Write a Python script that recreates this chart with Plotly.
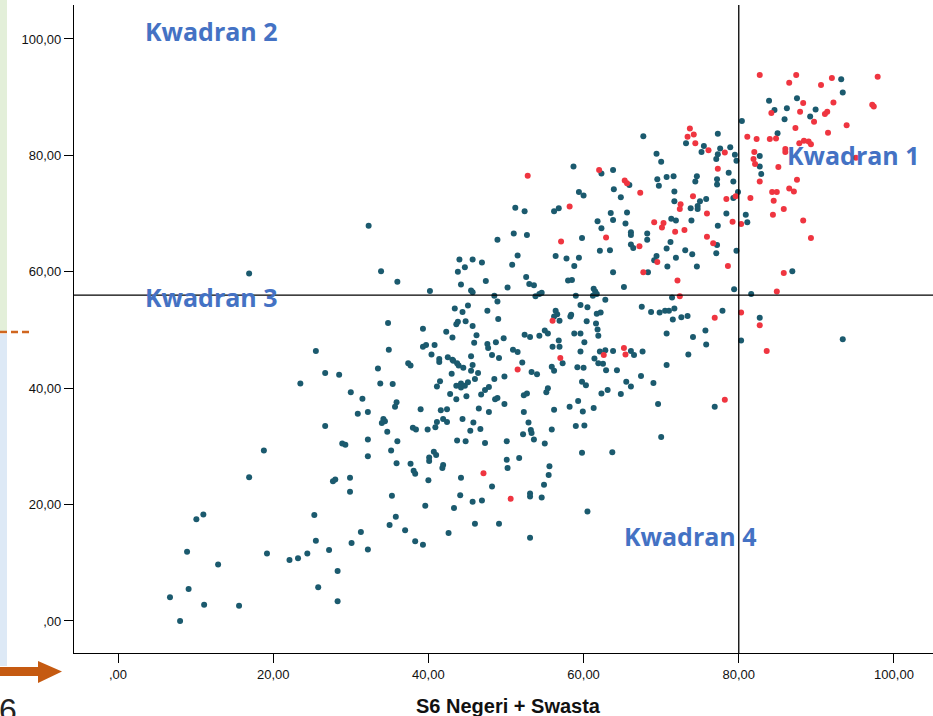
import plotly.graph_objects as go

# ---------------- data (x = S6 Negeri + Swasta, y = score) ----------------
teal_points = [
    (18.8, 29.3), (16.9, 24.7), (27.7, 24.0), (28.0, 24.3), (10.1, 17.5), (11.0, 18.3), (25.3, 18.2),
    (25.5, 13.8), (27.2, 12.2), (24.4, 11.6), (23.2, 10.8), (22.1, 10.5), (19.2, 11.6), (8.9, 11.9),
    (12.9, 9.7), (28.3, 8.6), (9.1, 5.5), (6.7, 4.1), (11.1, 2.8), (15.6, 2.6), (25.8, 5.8), (28.3, 3.4),
    (8.0, 0.0), (16.9, 59.7), (25.5, 46.4), (26.7, 42.6), (28.5, 42.3), (23.5, 40.8), (26.7, 33.5),
    (32.3, 67.9), (48.9, 65.5), (33.9, 60.1), (36.0, 58.3), (44.0, 62.1), (45.7, 62.1), (46.9, 61.6),
    (44.7, 60.8), (43.8, 60.0), (47.4, 58.4), (44.2, 57.8), (40.2, 56.7), (45.5, 56.8), (45.7, 56.5),
    (48.5, 55.9), (48.9, 54.9), (43.4, 53.7), (44.4, 53.1), (45.1, 54.2), (47.6, 53.3), (49.0, 51.9),
    (34.8, 51.2), (39.3, 50.2), (43.6, 51.0), (43.8, 51.4), (44.8, 51.5), (45.7, 50.7), (42.3, 49.7),
    (43.1, 48.7), (46.2, 49.1), (45.9, 47.8), (47.6, 47.6), (47.7, 46.9), (48.7, 47.9), (39.3, 47.1),
    (39.7, 47.4), (40.8, 47.4), (34.9, 46.6), (40.4, 45.8), (48.2, 45.7), (45.5, 45.5), (42.5, 45.3),
    (41.4, 45.0), (43.1, 44.9), (49.1, 45.2), (37.4, 44.3), (37.7, 43.9), (41.4, 44.5), (43.2, 44.7),
    (43.7, 44.3), (43.9, 43.9), (44.5, 43.5), (45.7, 44.0), (33.5, 43.4), (43.0, 42.5), (45.5, 43.0),
    (46.4, 42.6), (48.5, 41.6), (46.0, 41.6), (41.5, 41.2), (41.1, 40.3), (43.6, 40.4), (44.2, 40.8),
    (44.2, 40.1), (44.7, 40.4), (45.1, 41.0), (33.8, 40.8), (35.4, 40.7), (47.3, 39.7), (47.8, 40.2),
    (46.8, 38.9), (30.0, 39.3), (42.8, 39.0), (44.9, 38.6), (43.6, 38.1), (48.6, 38.1), (48.9, 38.3),
    (31.5, 38.2), (35.9, 37.6), (35.7, 36.8), (39.0, 36.4), (41.6, 36.2), (42.4, 36.4), (46.5, 36.5),
    (47.8, 35.9), (30.9, 35.6), (32.2, 35.9), (44.4, 34.7), (45.8, 34.1), (34.2, 34.7), (34.4, 34.3),
    (34.0, 34.0), (41.1, 34.2), (41.9, 34.7), (42.4, 34.2), (40.9, 33.3), (38.0, 33.2), (38.4, 32.9),
    (39.9, 32.9), (45.4, 32.7), (46.7, 33.0), (34.7, 32.5), (32.2, 31.2), (36.0, 30.9), (28.9, 30.5),
    (29.3, 30.3), (43.7, 31.0), (44.8, 30.9), (47.3, 30.6), (35.2, 29.3), (40.7, 29.1), (41.0, 28.5),
    (40.1, 28.1), (40.1, 27.5), (32.2, 28.3), (35.9, 27.1), (37.7, 27.0), (41.9, 26.8), (41.8, 26.3),
    (38.1, 25.8), (38.3, 25.3), (29.9, 24.6), (40.0, 24.2), (44.2, 24.6), (48.2, 23.1), (29.9, 22.2),
    (35.3, 21.5), (44.1, 21.6), (39.6, 19.8), (43.3, 19.4), (45.7, 20.5), (46.9, 20.7), (35.8, 17.9),
    (35.0, 16.5), (37.0, 15.6), (31.3, 15.3), (46.0, 16.7), (49.1, 16.7), (42.6, 15.1), (30.1, 13.4),
    (38.3, 13.7), (39.3, 13.1), (32.2, 12.3), (58.7, 78.1), (62.3, 76.9), (63.8, 77.5), (65.9, 74.9),
    (63.9, 74.2), (59.4, 73.7), (60.0, 73.1), (64.8, 72.8), (51.2, 71.0), (52.4, 70.4), (56.2, 70.4),
    (56.8, 70.9), (63.5, 70.1), (65.6, 70.2), (61.8, 68.7), (63.8, 68.9), (65.4, 68.3), (62.3, 67.5),
    (66.1, 66.8), (66.1, 66.3), (51.0, 66.6), (52.7, 66.3), (59.8, 65.8), (66.1, 64.7), (66.4, 64.1),
    (62.1, 63.6), (63.4, 63.7), (51.5, 62.8), (50.8, 61.2), (56.4, 62.7), (57.8, 62.3), (59.4, 62.4),
    (58.8, 61.0), (63.8, 59.9), (52.6, 59.1), (53.0, 57.9), (53.6, 57.7), (50.2, 57.3), (58.0, 58.5),
    (58.5, 58.6), (65.2, 57.4), (53.8, 55.8), (54.3, 56.2), (54.6, 56.4), (59.0, 55.9), (61.3, 57.1),
    (61.5, 56.6), (61.7, 56.2), (61.2, 55.9), (62.8, 55.2), (59.6, 54.3), (60.5, 53.9), (56.4, 53.3),
    (56.6, 52.7), (56.2, 52.3), (56.9, 51.6), (58.4, 52.6), (58.3, 52.3), (61.7, 52.8), (62.2, 53.0),
    (60.4, 51.5), (61.6, 51.1), (61.8, 50.1), (61.9, 49.0), (55.0, 49.9), (55.4, 49.4), (52.4, 49.2),
    (53.1, 48.8), (54.3, 49.0), (58.8, 49.4), (59.6, 49.4), (49.7, 48.6), (56.8, 48.2), (60.1, 47.9),
    (56.0, 47.1), (56.9, 47.1), (50.9, 46.6), (51.5, 46.2), (59.6, 46.3), (62.1, 46.3), (62.8, 46.5),
    (63.8, 46.4), (66.1, 46.4), (66.5, 45.7), (61.4, 45.1), (57.3, 44.3), (52.1, 44.4), (61.9, 44.3),
    (62.5, 44.2), (59.2, 43.6), (60.0, 43.5), (55.9, 43.7), (56.2, 43.0), (53.3, 42.8), (54.0, 42.4),
    (62.9, 43.1), (64.3, 43.1), (49.8, 42.0), (59.8, 41.1), (60.3, 40.5), (65.5, 41.1), (66.1, 40.3),
    (55.4, 40.0), (55.2, 39.3), (63.1, 39.7), (62.3, 39.1), (64.8, 39.0), (52.3, 38.8), (52.7, 39.1),
    (49.8, 37.3), (59.3, 37.8), (58.2, 36.8), (61.3, 36.6), (56.2, 36.3), (59.9, 36.0), (52.3, 35.9),
    (52.9, 34.1), (53.2, 32.8), (53.3, 32.3), (59.0, 33.5), (60.1, 33.6), (55.9, 32.9), (52.2, 32.1),
    (53.6, 31.2), (55.0, 30.5), (50.1, 30.9), (59.8, 28.9), (63.7, 29.0), (51.7, 28.0), (50.1, 27.7),
    (50.2, 26.3), (55.6, 26.6), (55.5, 25.1), (54.9, 23.4), (53.1, 21.9), (53.1, 21.4), (54.6, 21.2),
    (60.5, 18.8), (53.1, 14.3), (80.4, 85.9), (67.7, 83.3), (73.2, 82.1), (77.3, 83.7), (75.5, 81.6),
    (75.2, 80.6), (77.6, 81.2), (78.9, 81.4), (77.3, 80.2), (77.1, 79.4), (79.5, 80.1), (79.7, 79.1),
    (82.7, 79.9), (82.7, 78.1), (69.4, 80.3), (70.0, 78.9), (78.7, 77.0), (69.5, 75.9), (69.7, 74.8),
    (70.7, 76.3), (71.6, 76.4), (74.6, 76.4), (74.4, 75.5), (77.2, 75.9), (77.2, 75.0), (79.3, 75.5),
    (71.7, 73.8), (71.7, 72.1), (75.0, 72.1), (75.8, 72.5), (79.9, 73.7), (79.3, 72.7), (73.8, 70.9),
    (74.7, 71.3), (74.7, 70.8), (78.4, 70.0), (80.9, 69.8), (81.1, 68.5), (71.3, 69.1), (71.9, 68.8),
    (73.9, 68.8), (77.3, 67.9), (68.2, 66.6), (68.2, 65.5), (71.2, 65.1), (77.2, 64.6), (70.7, 64.0),
    (73.1, 63.7), (74.0, 63.0), (77.1, 63.2), (79.7, 63.6), (69.4, 62.7), (69.1, 62.0), (71.9, 62.4),
    (70.8, 60.9), (74.6, 60.9), (68.3, 59.9), (79.4, 57.0), (81.6, 56.2), (71.4, 55.6), (67.5, 54.0),
    (68.7, 53.1), (69.8, 53.0), (70.5, 53.3), (71.0, 53.3), (71.7, 53.7), (71.5, 51.8), (72.6, 52.2),
    (73.4, 52.4), (77.9, 53.3), (82.7, 52.1), (75.7, 49.9), (70.7, 49.4), (74.1, 48.8), (75.8, 47.5),
    (80.3, 48.2), (73.5, 45.8), (67.6, 46.3), (70.7, 44.0), (67.4, 42.1), (69.0, 40.9), (69.6, 37.3),
    (76.9, 36.8), (70.0, 31.6), (93.2, 93.1), (93.4, 90.8), (83.9, 89.4), (87.5, 89.8), (84.6, 87.8),
    (86.2, 88.1), (89.9, 87.9), (89.2, 86.7), (85.9, 86.2), (85.0, 83.8), (82.9, 76.8), (86.9, 60.1),
    (93.4, 48.4),
]

red_points = [
    (47.1, 25.4), (52.8, 76.5), (62.0, 77.5), (65.3, 75.7), (65.6, 75.2), (67.3, 73.6), (58.2, 71.2),
    (57.1, 65.2), (62.9, 65.9), (67.2, 64.4), (56.0, 51.6), (65.2, 46.9), (65.4, 45.8), (62.6, 45.7),
    (57.0, 45.2), (51.5, 43.2), (50.6, 21.0), (73.7, 84.6), (73.4, 83.2), (74.2, 83.6), (74.4, 82.1),
    (81.1, 83.2), (82.3, 82.8), (76.1, 80.9), (78.2, 80.5), (82.0, 80.6), (81.9, 79.4), (82.1, 78.5),
    (77.3, 77.7), (82.7, 75.5), (74.1, 73.0), (79.6, 73.0), (78.4, 72.5), (81.5, 72.7), (72.5, 71.6),
    (72.4, 70.8), (75.9, 70.0), (79.2, 68.6), (80.3, 68.2), (69.1, 68.5), (70.3, 68.4), (70.1, 67.6),
    (71.8, 66.9), (73.0, 67.2), (75.9, 66.0), (76.7, 64.9), (69.5, 61.7), (78.6, 61.0), (67.7, 59.9),
    (72.1, 58.5), (72.4, 55.8), (80.3, 53.0), (76.9, 52.1), (82.7, 50.8), (78.2, 38.0), (82.7, 93.8),
    (87.4, 93.8), (86.5, 92.5), (92.0, 93.3), (90.6, 92.1), (97.9, 93.5), (88.3, 89.0), (84.2, 87.3),
    (87.9, 87.5), (92.2, 89.1), (91.4, 87.5), (91.1, 87.1), (89.7, 85.8), (97.2, 88.7), (97.4, 88.4),
    (93.9, 85.2), (87.3, 84.7), (91.5, 83.9), (84.0, 82.8), (84.8, 82.9), (87.8, 82.1), (88.4, 82.5),
    (89.0, 82.4), (89.3, 81.9), (86.0, 81.1), (86.0, 80.6), (95.1, 79.6), (85.1, 78.0), (87.5, 75.8),
    (86.5, 74.3), (87.1, 73.8), (84.3, 73.7), (84.9, 73.7), (84.5, 72.2), (85.8, 70.8), (84.4, 69.8),
    (88.3, 68.8), (89.3, 65.8), (85.8, 59.8), (84.9, 56.6), (83.6, 46.4),
]

tick_values = [0, 20, 40, 60, 80, 100]
tick_labels = [",00", "20,00", "40,00", "60,00", "80,00", "100,00"]
x_cut = 80      # vertical quadrant divider
y_cut = 56      # horizontal quadrant divider
quadrant_labels = ["Kwadran 1", "Kwadran 2", "Kwadran 3", "Kwadran 4"]
x_title = "S6 Negeri + Swasta"

# ---------------- layout geometry ----------------
W, H = 933, 716
ML, MR, MT, MB = 74, 0, 5, 63
PW, PH = W - ML - MR, H - MT - MB
X_RANGE = [-5.67, 105.03]
Y_RANGE = [-5.50, 105.84]


def px(x):  # pixel -> paper x
    return (x - ML) / PW


def py(y):  # pixel -> paper y
    return (H - MB - y) / PH


TEAL = "#1b5a6e"
RED = "#ef3540"

fig = go.Figure()
fig.add_trace(go.Scatter(
    x=[p[0] for p in teal_points], y=[p[1] for p in teal_points],
    mode="markers", marker=dict(size=6, color=TEAL, line=dict(width=0)),
    showlegend=False, hoverinfo="x+y"))
fig.add_trace(go.Scatter(
    x=[p[0] for p in red_points], y=[p[1] for p in red_points],
    mode="markers", marker=dict(size=6, color=RED, line=dict(width=0)),
    showlegend=False, hoverinfo="x+y"))

axis_common = dict(
    showgrid=False, zeroline=False, showline=True, linecolor="black", linewidth=1.3,
    ticks="outside", ticklen=9, tickwidth=1.3, tickcolor="black",
    tickvals=tick_values, ticktext=tick_labels,
    tickfont=dict(family="Liberation Sans, Arial, sans-serif", size=13, color="#111111"),
    mirror=False, fixedrange=True,
)
fig.update_xaxes(range=X_RANGE, **axis_common)
fig.update_yaxes(range=Y_RANGE, **axis_common)

shapes = [
    # quadrant divider lines
    dict(type="line", xref="x", yref="paper", x0=x_cut, x1=x_cut, y0=0, y1=1,
         line=dict(color="black", width=1.3), layer="above"),
    dict(type="line", xref="paper", yref="y", x0=0, x1=1, y0=y_cut, y1=y_cut,
         line=dict(color="black", width=1.3), layer="above"),
    # slide decorations on the left edge
    dict(type="rect", xref="paper", yref="paper", x0=px(0), x1=px(7), y0=py(331), y1=py(0),
         fillcolor="#e3efd9", line=dict(width=0), layer="below"),
    dict(type="rect", xref="paper", yref="paper", x0=px(0), x1=px(7), y0=py(666), y1=py(334),
         fillcolor="#dde9f6", line=dict(width=0), layer="below"),
    dict(type="line", xref="paper", yref="paper", x0=px(0), x1=px(30), y0=py(332), y1=py(332),
         line=dict(color="#d0661f", width=2.5, dash="7px,4px")),
    dict(type="path", xref="paper", yref="paper",
         path=(f"M {px(0)},{py(667)} L {px(38)},{py(667)} L {px(38)},{py(661)} "
               f"L {px(62)},{py(671.5)} L {px(38)},{py(683)} L {px(38)},{py(676)} "
               f"L {px(0)},{py(676)} Z"),
         fillcolor="#c55a11", line=dict(width=0)),
]

qfont = dict(family="Open Sans, Noto Sans, sans-serif", size=25, color="#4472C4")
annotations = [
    dict(text=f"<b>{quadrant_labels[1]}</b>", x=3.2, y=101.4, xref="x", yref="y",
         xanchor="left", yanchor="middle", showarrow=False, font=qfont),
    dict(text=f"<b>{quadrant_labels[2]}</b>", x=3.2, y=55.7, xref="x", yref="y",
         xanchor="left", yanchor="middle", showarrow=False, font=qfont),
    dict(text=f"<b>{quadrant_labels[3]}</b>", x=64.9, y=14.6, xref="x", yref="y",
         xanchor="left", yanchor="middle", showarrow=False, font=qfont),
    dict(text=f"<b>{quadrant_labels[0]}</b>", x=85.9, y=80.1, xref="x", yref="y",
         xanchor="left", yanchor="middle", showarrow=False, font=qfont),
    # x-axis title
    dict(text=f"<b>{x_title}</b>", x=px(508), y=py(706), xref="paper", yref="paper",
         xanchor="center", yanchor="middle", showarrow=False,
         font=dict(family="Liberation Sans, Arial, sans-serif", size=20, color="#111111")),
    # slide page number
    dict(text="6", x=px(-3), y=py(690), xref="paper", yref="paper",
         xanchor="left", yanchor="top", showarrow=False,
         font=dict(family="Liberation Sans, Arial, sans-serif", size=32, color="#222222")),
]

fig.update_layout(
    width=W, height=H, autosize=False,
    margin=dict(l=ML, r=MR, t=MT, b=MB, pad=0),
    paper_bgcolor="white", plot_bgcolor="white",
    shapes=shapes, annotations=annotations,
    showlegend=False,
)

fig.write_html(
    "out.html",
    config={"displayModeBar": False},
    post_script="document.body.style.margin='0';document.body.style.padding='0';"
                "document.documentElement.style.overflow='hidden';",
)
